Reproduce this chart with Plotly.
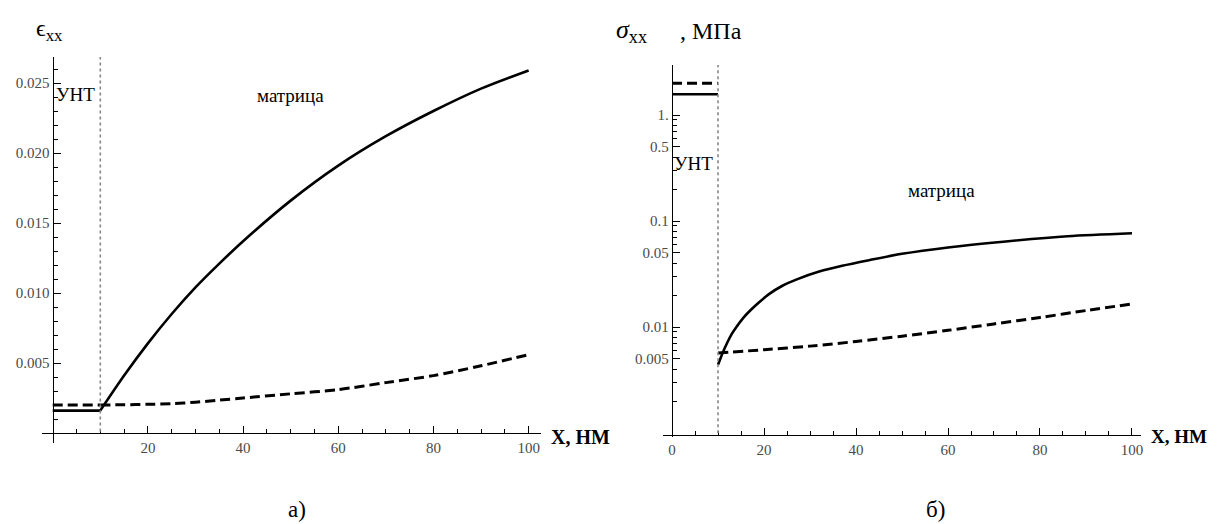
import plotly.graph_objects as go

# ---------------- data ----------------
# Panel a) strain eps_xx
unt_x_a = [0, 10]
unt_solid_a = [0.0016, 0.0016]
unt_dash_a = [0.0020, 0.0020]
mat_x_a = [10, 15, 20, 25, 30, 35, 40, 50, 60, 70, 80, 90, 100]
mat_solid_a = [0.0016, 0.0041, 0.0064, 0.0085, 0.0104, 0.0121, 0.0137, 0.0166, 0.0191, 0.0212, 0.0230, 0.0246, 0.0259]
mat_dash_a = [0.0020, 0.00202, 0.00205, 0.0021, 0.0022, 0.00235, 0.0025, 0.0028, 0.0031, 0.0036, 0.0041, 0.0048, 0.0056]

# Panel b) stress sigma_xx, MPa (log scale)
unt_x_b = [0, 10]
unt_solid_b = [1.57, 1.57]
unt_dash_b = [1.99, 1.99]
mat_x_b = [10, 11, 12, 13, 14, 15.5, 17, 19, 21, 24, 27, 32, 37, 43, 50, 60, 72, 86, 100]
mat_solid_b = [0.0044, 0.0057, 0.0071, 0.0086, 0.0100, 0.0122, 0.0143, 0.0172, 0.0203, 0.0245, 0.0280,
               0.0333, 0.0378, 0.0428, 0.0490, 0.0563, 0.0638, 0.0718, 0.0766]
mat_dash_x_b = [10, 20, 30, 40, 50, 60, 70, 80, 90, 100]
mat_dash_b = [0.0057, 0.0061, 0.0066, 0.0073, 0.0082, 0.0093, 0.0107, 0.0123, 0.0143, 0.0165]

interface_x = 10

xticks_a = [20, 40, 60, 80, 100]
xticks_b = [0, 20, 40, 60, 80, 100]
xminor = [5, 10, 15, 25, 30, 35, 45, 50, 55, 65, 70, 75, 85, 90, 95]
yticks_a = [0.005, 0.010, 0.015, 0.020, 0.025]
yticklabels_a = ["0.005", "0.010", "0.015", "0.020", "0.025"]
yminor_a = [0.001, 0.002, 0.003, 0.004, 0.006, 0.007, 0.008, 0.009, 0.011, 0.012, 0.013, 0.014,
            0.016, 0.017, 0.018, 0.019, 0.021, 0.022, 0.023, 0.024, 0.026]
yticks_b = [0.005, 0.01, 0.05, 0.1, 0.5, 1.0]
yticklabels_b = ["0.005", "0.01", "0.05", "0.1", "0.5", "1."]
yminor_b = [k * 10 ** n for n in (-3, -2, -1, 0) for k in range(2, 10)
            if round(k * 10 ** n, 6) not in (0.005, 0.05, 0.5)]

# ---------------- figure ----------------
W, H = 1220, 524
SERIF = "Liberation Serif"
LW = 2.6
DASH = "10px,5px"

fig = go.Figure()

def add(x, y, dash, xa, ya):
    fig.add_trace(go.Scatter(x=x, y=y, mode="lines", xaxis=xa, yaxis=ya,
                             line=dict(color="black", width=LW if dash == "solid" else 3.0, dash=dash,
                                       shape="spline", smoothing=0.8),
                             showlegend=False, hoverinfo="skip"))

add(unt_x_a, unt_solid_a, "solid", "x", "y")
add(unt_x_a, unt_dash_a, DASH, "x", "y")
add(mat_x_a, mat_solid_a, "solid", "x", "y")
add(mat_x_a, mat_dash_a, DASH, "x", "y")

add(unt_x_b, unt_solid_b, "solid", "x2", "y2")
add(unt_x_b, unt_dash_b, DASH, "x2", "y2")
add(mat_x_b, mat_solid_b, "solid", "x2", "y2")
add(mat_dash_x_b, mat_dash_b, DASH, "x2", "y2")

tickfont = dict(family=SERIF, size=15, color="#4a4a4a")

def xax(domain, rng, pos, tv, tt):
    return dict(domain=domain, range=rng, anchor="free", position=pos, automargin=False,
                showline=True, linecolor="black", linewidth=1.3,
                ticks="inside", ticklen=7, tickwidth=1.2, tickcolor="black",
                tickmode="array", tickvals=tv, ticktext=tt, tickfont=tickfont,
                ticklabelstandoff=1,
                showgrid=False, zeroline=False,
                minor=dict(ticks="inside", ticklen=4, tickwidth=1, tickcolor="black",
                           tickmode="array", tickvals=xminor, showgrid=False))

def yax(domain, rng, pos, tv, tt, minor, typ="linear"):
    return dict(domain=domain, range=rng, anchor="free", position=pos, type=typ, automargin=False,
                showline=True, linecolor="black", linewidth=1.3,
                ticks="inside", ticklen=7, tickwidth=1.2, tickcolor="black",
                tickmode="array", tickvals=tv, ticktext=tt, tickfont=tickfont,
                showgrid=False, zeroline=False,
                minor=dict(ticks="inside", ticklen=4, tickwidth=1, tickcolor="black",
                           tickmode="array", tickvals=minor, showgrid=False))

fig.update_layout(
    template="none",
    width=W, height=H,
    margin=dict(l=0, r=0, t=0, b=0, autoexpand=False),
    paper_bgcolor="white", plot_bgcolor="rgba(0,0,0,0)",
    xaxis=xax([42 / W, 541 / W], [-2.25, 102.6], 1 - 433 / H, xticks_a, [str(v) for v in xticks_a]),
    yaxis=yax([1 - 443 / H, 1 - 57 / H], [-0.000714, 0.02686], 52.7 / W, yticks_a, yticklabels_a, yminor_a),
    xaxis2=xax([663 / W, 1141 / W], [-1.96, 101.96], 1 - 435 / H, xticks_b, [str(v) for v in xticks_b]),
    yaxis2=yax([1 - 437 / H, 1 - 65 / H], [-3.0377, 0.4717], 672 / W, yticks_b, yticklabels_b, yminor_b, "log"),
)

# interface dotted lines
for xr, yr, y0 in (("x", "y domain", 0.03), ("x2", "y2 domain", 0.01)):
    fig.add_shape(type="line", xref=xr, yref=yr, x0=interface_x, x1=interface_x, y0=y0, y1=1,
                  line=dict(color="#888", width=1.6, dash="dot"))

def ann(text, x, y, size, xanchor="center", yanchor="middle", bold=False):
    fig.add_annotation(text=f"<b>{text}</b>" if bold else text, x=x, y=y, xref="paper", yref="paper",
                       xanchor=xanchor, yanchor=yanchor, showarrow=False,
                       font=dict(family=SERIF, size=size, color="black"))

def P(px, py):
    return px / W, 1 - py / H

# axis titles
px, py = P(34, 30); ann("ϵ<sub>xx</sub>", px, py, 24, xanchor="left")
px, py = P(614, 31); ann("<i>σ</i><sub>xx</sub>", px, py, 26, xanchor="left")
px, py = P(678, 31); ann(", МПа", px, py, 24, xanchor="left")
px, py = P(549, 437); ann("X, НМ", px, py, 20, xanchor="left", bold=True)
px, py = P(1149, 436); ann("X, НМ", px, py, 19, xanchor="left", bold=True)

# region labels
px, py = P(54, 94); ann("УНТ", px, py, 19, xanchor="left")
px, py = P(290, 96); ann("матрица", px, py, 19)
px, py = P(672, 163); ann("УНТ", px, py, 19, xanchor="left")
px, py = P(942, 190); ann("матрица", px, py, 19)

# panel labels
px, py = P(297, 509); ann("а)", px, py, 23)
px, py = P(935, 509); ann("б)", px, py, 23)

fig.write_html("out.html", config={"displayModeBar": False},
               post_script="document.body.style.margin='0';document.body.style.overflow='hidden';")
